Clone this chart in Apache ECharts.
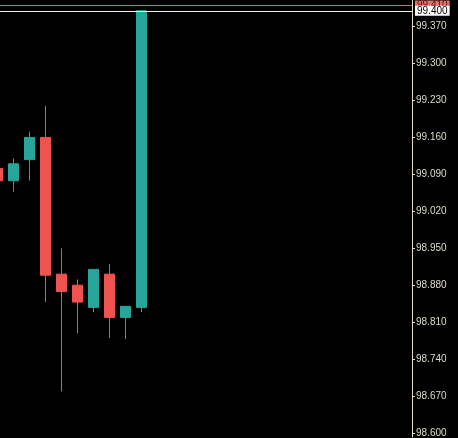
<!DOCTYPE html>
<html>
<head>
<meta charset="utf-8">
<script src="https://cdn.jsdelivr.net/npm/echarts@6/dist/echarts.min.js"></script>
<style>
html,body{margin:0;padding:0;background:#000;}
#chart{width:458px;height:438px;}
</style>
</head>
<body>
<div id="chart"></div>
<script>
// candle index positions
var candleIndex = [0, 1, 2, 3, 4, 5, 6, 7, 8, 9];
var openVals  = [99.101, 99.078, 99.118, 99.160, 98.901, 98.880, 98.838, 98.901, 98.819, 98.838];
var closeVals = [99.078, 99.110, 99.160, 98.899, 98.868, 98.848, 98.910, 98.819, 98.840, 99.400];
var lowVals   = [99.078, 99.057, 99.078, 98.848, 98.679, 98.789, 98.829, 98.780, 98.778, 98.829];
var highVals  = [99.101, 99.120, 99.171, 99.220, 98.950, 98.891, 98.910, 98.920, 98.840, 99.400];
var tickValues = [98.600, 98.670, 98.740, 98.810, 98.880, 98.950, 99.020, 99.090, 99.160, 99.230, 99.300, 99.370];
var askPrice = 99.410;
var lastPrice = 99.400;

var up = '#26a69a', down = '#ef5350';
var data = candleIndex.map(function (x, i) {
  return [x, openVals[i], closeVals[i], lowVals[i], highVals[i]];
});

var chart = echarts.init(document.getElementById('chart'), null, {renderer: 'canvas'});
chart.setOption({
  backgroundColor: '#000000',
  animation: false,
  grid: {left: 0, right: 46, top: 0, bottom: 0, containLabel: false},
  xAxis: {
    type: 'value', min: 0.15625, max: 25.90625,
    show: false
  },
  yAxis: {
    type: 'value', position: 'right',
    min: 98.5924, max: 99.4204,
    splitLine: {show: false},
    axisLine: {show: true, onZero: false, lineStyle: {color: '#e6e2b4', width: 1}},
    axisTick: {show: true, length: 3, customValues: tickValues, lineStyle: {color: '#e6e2b4'}},
    axisLabel: {
      customValues: tickValues,
      margin: 4,
      color: '#dedccb',
      fontFamily: 'Liberation Sans',
      fontSize: 10,
      formatter: function (v) { return v.toFixed(3); }
    }
  },
  series: [{
    type: 'candlestick',
    data: data,
    barWidth: 11,
    clip: false,
    itemStyle: {
      color: up, color0: down, borderColor: up, borderColor0: down, borderWidth: 1
    },
    markLine: {
      silent: true,
      symbol: ['none', 'none'],
      animation: false,
      data: [
        {
          yAxis: askPrice,
          lineStyle: {color: '#b87a6e', type: 'solid', width: 1},
          label: {
            position: 'end', distance: 3,
            backgroundColor: '#e07070', color: '#5a1010',
            fontFamily: 'Liberation Sans', fontSize: 10, lineHeight: 10,
            padding: [0, 2],
            formatter: function (p) { return p.value.toFixed(3); }
          }
        },
        {
          yAxis: lastPrice,
          lineStyle: {color: '#f2f2f2', type: 'solid', width: 1},
          label: {
            position: 'end', distance: 3,
            backgroundColor: '#ffffff', color: '#000000',
            fontFamily: 'Liberation Sans', fontSize: 10, lineHeight: 10,
            padding: [0, 2],
            formatter: function (p) { return p.value.toFixed(3); }
          }
        }
      ]
    }
  }]
});
</script>
</body>
</html>
